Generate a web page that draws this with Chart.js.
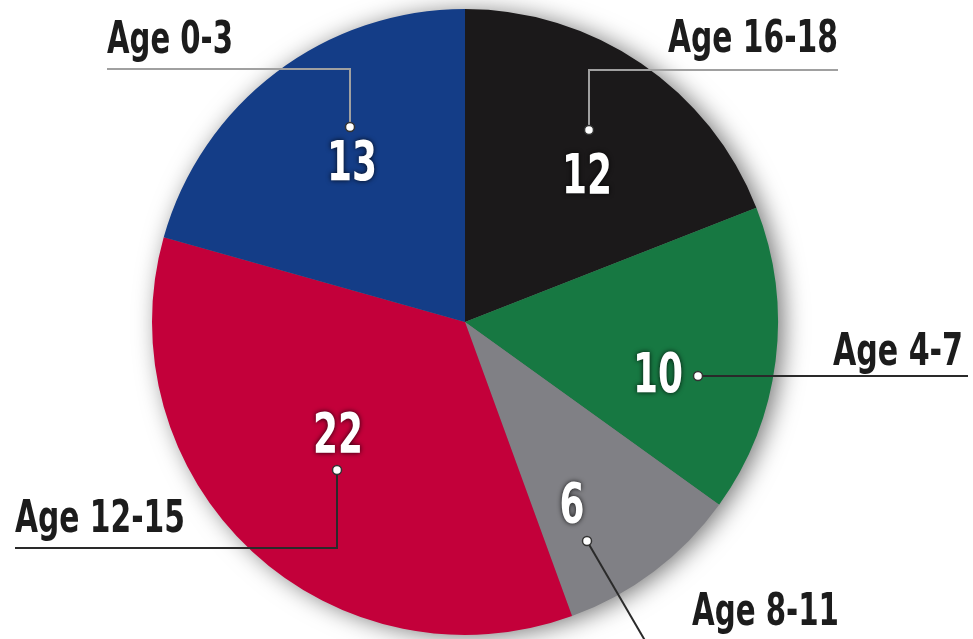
<!DOCTYPE html>
<html>
<head>
<meta charset="utf-8">
<script src="https://cdn.jsdelivr.net/npm/chart.js@4.4.1/dist/chart.umd.min.js"></script>
<style>
  html, body { margin: 0; padding: 0; background: #fff; }
  canvas { display: block; }
</style>
</head>
<body>
<canvas id="ageChart" width="973" height="639"></canvas>
<script>
// data
const ageGroups = ["Age 16-18", "Age 4-7", "Age 8-11", "Age 12-15", "Age 0-3"];
const counts = [12, 10, 6, 22, 13];
const sliceColors = ["#1b191a", "#177842", "#808085", "#c3003a", "#143d87"];

// callout layout, offsets from pie centre (px)
const callouts = [
  { dot: [124, -192], path: [[124, -252], [373, -252]], text: [373, -270, "right", 170], num: [122, -129], line: "#a0a0a0" },
  { dot: [233, 54], path: [[503, 54]], text: [498, 43, "right", 130], num: [193, 70], line: "#2a2a2a" },
  { dot: [122, 219], path: [[182, 322]], text: [227, 303, "left", 147], num: [107, 200], line: "#2a2a2a" },
  { dot: [-128, 148], path: [[-128, 226], [-450, 226]], text: [-450, 210, "left", 170], num: [-127, 130], line: "#2a2a2a" },
  { dot: [-115, -195], path: [[-115, -253], [-358, -253]], text: [-358, -269, "left", 126], num: [-113, -142], line: "#a0a0a0" },
];

const FONT = '"Liberation Sans Narrow", "DejaVu Sans Condensed", "Open Sans", sans-serif';

function fitText(ctx, str, x, y, align, width) {
  const w = ctx.measureText(str).width;
  const s = width / w;
  ctx.save();
  ctx.translate(x, y);
  ctx.scale(s, 1);
  ctx.textAlign = "left";
  ctx.fillText(str, align === "right" ? -w : 0, 0);
  ctx.restore();
}

const pieShadow = {
  id: "pieShadow",
  beforeDatasetsDraw(chart) {
    const arc = chart.getDatasetMeta(0).data[0];
    const ctx = chart.ctx;
    ctx.save();
    ctx.shadowColor = "rgba(0,0,0,0.55)";
    ctx.shadowBlur = 24;
    ctx.shadowOffsetX = 6;
    ctx.shadowOffsetY = 2;
    ctx.beginPath();
    ctx.arc(arc.x, arc.y, arc.outerRadius - 1, 0, Math.PI * 2);
    ctx.fillStyle = "#777";
    ctx.fill();
    ctx.restore();
  },
};

const calloutLabels = {
  id: "calloutLabels",
  afterDatasetsDraw(chart) {
    const arc = chart.getDatasetMeta(0).data[0];
    const cx = arc.x, cy = arc.y;
    const ctx = chart.ctx;
    ctx.save();
    callouts.forEach((c, i) => {
      // leader line
      ctx.beginPath();
      ctx.moveTo(cx + c.dot[0], cy + c.dot[1]);
      c.path.forEach((p) => ctx.lineTo(cx + p[0], cy + p[1]));
      ctx.strokeStyle = c.line;
      ctx.lineWidth = 2;
      ctx.stroke();
      // dot
      ctx.beginPath();
      ctx.arc(cx + c.dot[0], cy + c.dot[1], 4.5, 0, Math.PI * 2);
      ctx.fillStyle = "#fff";
      ctx.fill();
      ctx.lineWidth = 1.5;
      ctx.strokeStyle = "#333";
      ctx.stroke();
      // value
      ctx.save();
      ctx.font = "bold 56px " + FONT;
      ctx.textAlign = "center";
      ctx.textBaseline = "alphabetic";
      ctx.shadowColor = "rgba(0,0,0,0.85)";
      ctx.shadowBlur = 5;
      ctx.fillStyle = "#fff";
      const numStr = String(counts[i]);
      fitText(ctx, numStr, cx + c.num[0] - (numStr.length * 25) / 2, cy + c.num[1], "left", numStr.length * 25);
      ctx.restore();
      // category label
      ctx.font = "bold 45px " + FONT;
      ctx.fillStyle = "#1c1c1c";
      fitText(ctx, ageGroups[i], cx + c.text[0], cy + c.text[1], c.text[2], c.text[3]);
    });
    ctx.restore();
  },
};

new Chart(document.getElementById("ageChart").getContext("2d"), {
  type: "pie",
  data: {
    labels: ageGroups,
    datasets: [
      {
        data: counts,
        backgroundColor: sliceColors,
        borderWidth: 0,
        hoverOffset: 0,
      },
    ],
  },
  options: {
    responsive: false,
    animation: false,
    layout: { padding: { left: 152, right: 195, top: 9, bottom: 4 } },
    plugins: {
      legend: { display: false },
      tooltip: { enabled: false },
    },
  },
  plugins: [pieShadow, calloutLabels],
});
</script>
</body>
</html>
